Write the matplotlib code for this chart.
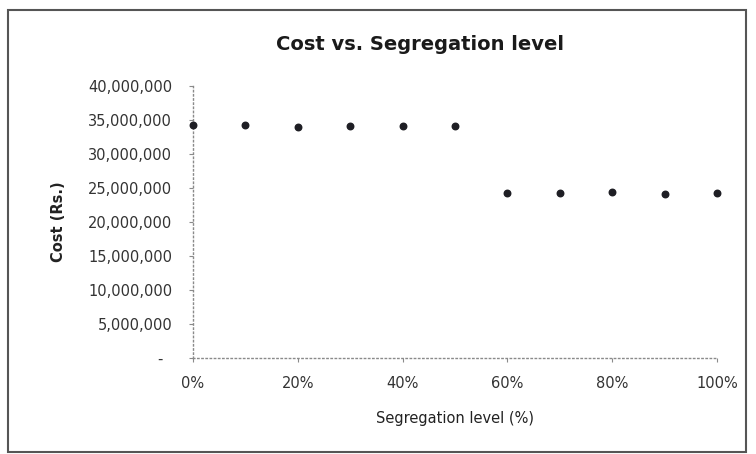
import matplotlib.pyplot as plt
from matplotlib.ticker import FuncFormatter
from matplotlib.patches import Rectangle

# segregation level (fraction) and total cost (Rs.)
seg_level = [0.0, 0.1, 0.2, 0.3, 0.4, 0.5, 0.6, 0.7, 0.8, 0.9, 1.0]
cost = [34300000, 34200000, 34000000, 34100000, 34100000, 34100000,
        24200000, 24200000, 24400000, 24100000, 24300000]

y_ticks = [0, 5000000, 10000000, 15000000, 20000000, 25000000,
           30000000, 35000000, 40000000]
x_ticks = [0.0, 0.2, 0.4, 0.6, 0.8, 1.0]

plt.rcParams['font.family'] = ['DejaVu Sans']

W, H = 756, 454
fig = plt.figure(figsize=(W / 100, H / 100), dpi=100)
ax = fig.add_axes([193 / W, (H - 358) / H, (717 - 193) / W, (358 - 86) / H])

ax.scatter(seg_level, cost, s=22, color='#1e1e24', zorder=3, clip_on=False)

ax.set_xlim(0, 1)
ax.set_ylim(0, 40000000)
ax.set_xticks(x_ticks)
ax.set_yticks(y_ticks)
ax.xaxis.set_major_formatter(FuncFormatter(lambda v, p: f"{v * 100:.0f}%"))
ax.yaxis.set_major_formatter(FuncFormatter(lambda v, p: "-  " if v == 0 else f"{v:,.0f}"))

for s in ['top', 'right']:
    ax.spines[s].set_visible(False)
for s in ['left', 'bottom']:
    ax.spines[s].set_color('#8a8a8a')
    ax.spines[s].set_linestyle((0, (1, 2)))
    ax.spines[s].set_linewidth(1)

ax.tick_params(axis='both', length=3, color='#8a8a8a', labelsize=10.5, labelcolor='#333333')
ax.tick_params(axis='y', pad=12)
ax.tick_params(axis='x', pad=10)

ax.set_xlabel('Segregation level (%)', fontsize=10.5, color='#222222', labelpad=14)
ax.set_ylabel('Cost (Rs.)', fontsize=10.5, color='#222222', fontweight='bold', labelpad=16)

fig.text(420 / W, 1 - 45 / H, 'Cost vs. Segregation level', ha='center', va='center',
         fontsize=14, fontweight='bold', color='#1a1a1a')

# outer chart frame
fig.patches.append(Rectangle((8 / W, 2 / H), 738 / W, 442 / H, transform=fig.transFigure,
                             fill=False, edgecolor='#555555', linewidth=1.5))

fig.savefig('out.png', dpi=100)
